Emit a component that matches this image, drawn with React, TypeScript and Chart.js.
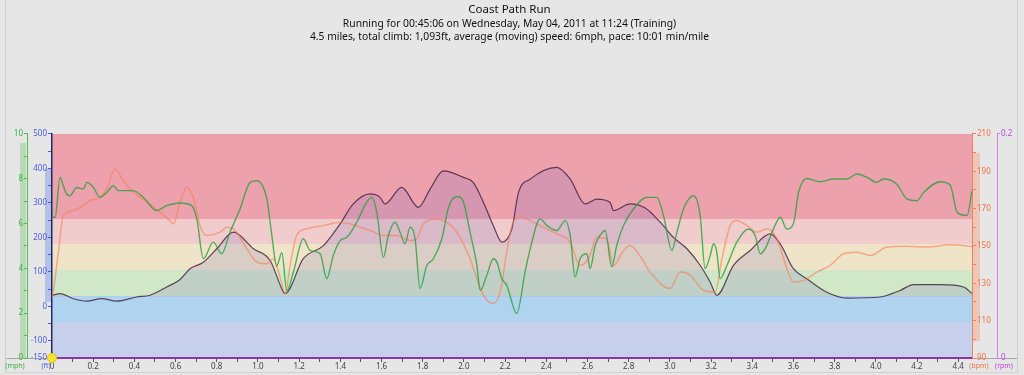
import React, { useEffect, useRef } from 'react';
import { Chart, registerables } from 'chart.js';

Chart.register(...registerables);

const TITLE = 'Coast Path Run';
const SUBTITLE = [
  'Running for 00:45:06 on Wednesday, May 04, 2011 at 11:24 (Training)',
  '4.5 miles, total climb: 1,093ft, average (moving) speed: 6mph, pace: 10:01 min/mile',
];

// distance in miles
const DIST_MAX = 4.467;

// altitude (ft)
const altMiles = [0, 0.039, 0.103, 0.169, 0.241, 0.314, 0.411, 0.476, 0.557, 0.622, 0.67, 0.735, 0.8, 0.881, 0.978, 1.059, 1.123, 1.132, 1.22, 1.318, 1.399, 1.463, 1.544, 1.593, 1.617, 1.698, 1.779, 1.836, 1.9, 1.998, 2.046, 2.095, 2.143, 2.184, 2.233, 2.265, 2.322, 2.451, 2.516, 2.589, 2.645, 2.71, 2.726, 2.807, 2.88, 2.953, 3.017, 3.083, 3.147, 3.196, 3.228, 3.309, 3.39, 3.487, 3.536, 3.6, 3.665, 3.762, 3.86, 4.021, 4.118, 4.183, 4.313, 4.426, 4.467];
const altFeet = [32, 37, 22, 15, 22, 15, 27, 32, 56, 78, 109, 128, 167, 215, 167, 133, 42, 37, 138, 176, 239, 297, 326, 316, 297, 345, 287, 340, 393, 374, 359, 301, 234, 186, 225, 330, 369, 403, 369, 297, 311, 301, 278, 297, 285, 244, 200, 167, 119, 70, 32, 119, 162, 210, 181, 109, 80, 41, 24, 27, 46, 63, 63, 56, 37];

// speed (mph)
const speedMiles = [0, 0.015, 0.039, 0.055, 0.071, 0.087, 0.12, 0.152, 0.169, 0.201, 0.233, 0.266, 0.298, 0.322, 0.363, 0.395, 0.443, 0.508, 0.557, 0.622, 0.678, 0.703, 0.735, 0.783, 0.824, 0.864, 0.913, 0.962, 0.994, 1.043, 1.067, 1.091, 1.116, 1.14, 1.172, 1.22, 1.253, 1.302, 1.334, 1.366, 1.399, 1.431, 1.48, 1.528, 1.553, 1.577, 1.609, 1.633, 1.666, 1.69, 1.714, 1.739, 1.763, 1.787, 1.82, 1.852, 1.893, 1.925, 1.966, 1.998, 2.03, 2.063, 2.079, 2.111, 2.143, 2.16, 2.184, 2.208, 2.257, 2.297, 2.322, 2.37, 2.403, 2.451, 2.492, 2.516, 2.54, 2.564, 2.597, 2.613, 2.637, 2.661, 2.686, 2.718, 2.742, 2.775, 2.823, 2.888, 2.937, 2.969, 3.01, 3.034, 3.066, 3.115, 3.147, 3.171, 3.196, 3.212, 3.228, 3.244, 3.277, 3.325, 3.382, 3.414, 3.439, 3.463, 3.503, 3.536, 3.568, 3.6, 3.625, 3.665, 3.73, 3.795, 3.86, 3.908, 3.957, 4.005, 4.037, 4.102, 4.151, 4.2, 4.232, 4.313, 4.361, 4.395, 4.443, 4.467];
const speedMph = [6.28, 6.28, 8.06, 7.69, 7.32, 7.24, 7.61, 7.54, 7.84, 7.61, 7.17, 7.39, 7.69, 7.47, 7.47, 7.47, 7.17, 6.58, 6.8, 6.92, 6.8, 6.21, 4.43, 5.17, 4.65, 5.61, 6.65, 7.84, 7.91, 7.1, 5.5, 4.1, 4.7, 3.0, 3.84, 5.32, 4.8, 4.65, 3.54, 4.58, 5.24, 5.39, 6.06, 6.95, 7.17, 6.5, 4.5, 5.47, 6.06, 5.61, 5.1, 5.84, 5.32, 3.1, 4.13, 4.43, 5.32, 6.72, 7.21, 6.95, 5.61, 4.13, 3.02, 3.69, 4.43, 4.28, 3.54, 3.24, 1.99, 3.84, 4.88, 6.21, 5.91, 5.69, 6.13, 5.47, 3.61, 4.43, 4.65, 3.99, 5.02, 5.47, 5.69, 4.06, 5.02, 5.91, 6.65, 7.17, 7.17, 6.36, 4.8, 5.61, 6.65, 7.24, 6.36, 3.99, 4.58, 5.1, 4.72, 3.54, 4.13, 5.17, 5.76, 5.47, 4.65, 4.88, 5.76, 6.28, 5.76, 5.99, 7.39, 8.01, 7.87, 7.99, 7.99, 8.21, 8.06, 7.84, 7.99, 7.76, 7.1, 7.02, 7.39, 7.87, 7.72, 6.5, 6.36, 7.47];

// heart rate (bpm)
const hrMiles = [0, 0.006, 0.031, 0.055, 0.103, 0.152, 0.185, 0.233, 0.266, 0.306, 0.346, 0.379, 0.427, 0.476, 0.525, 0.573, 0.589, 0.622, 0.654, 0.686, 0.719, 0.751, 0.816, 0.848, 0.881, 0.946, 0.994, 1.043, 1.075, 1.107, 1.132, 1.156, 1.188, 1.237, 1.318, 1.399, 1.447, 1.544, 1.609, 1.674, 1.739, 1.771, 1.803, 1.868, 1.917, 1.966, 2.03, 2.063, 2.095, 2.143, 2.176, 2.208, 2.233, 2.273, 2.322, 2.386, 2.451, 2.516, 2.564, 2.605, 2.645, 2.694, 2.726, 2.775, 2.807, 2.856, 2.905, 3.001, 3.05, 3.099, 3.163, 3.22, 3.253, 3.293, 3.325, 3.374, 3.423, 3.471, 3.52, 3.568, 3.6, 3.649, 3.714, 3.778, 3.843, 3.908, 3.973, 4.054, 4.151, 4.248, 4.361, 4.467];
const hrBpm = [122, 125.4, 146.7, 166.3, 168.9, 171.6, 174.3, 176, 180.5, 191.2, 185, 180.5, 176, 172.5, 168, 163.6, 161.8, 173.4, 181.4, 176, 160.9, 155.6, 157.4, 160, 159.2, 148.5, 141.4, 140.5, 143.2, 133.4, 124.5, 139.6, 155.6, 159.2, 160.9, 162.7, 161.8, 158.3, 155.6, 155.6, 152.9, 153.8, 161.8, 164.5, 162.7, 157.4, 143.2, 132.5, 123.6, 119.2, 125.4, 146.7, 160.9, 165.4, 163.6, 160, 156.5, 152, 139.6, 143.2, 154.7, 153.8, 139.6, 147.6, 150.3, 144.5, 136, 127.2, 136, 134.3, 126.3, 125.4, 143.2, 160.9, 163.6, 160.9, 157.4, 159.2, 153.8, 137.8, 130.7, 131.6, 136, 139.6, 145.8, 146.7, 144.9, 149.4, 149.9, 149.4, 150.6, 149.7];

// heart-rate zones (bpm bounds) and their colours
const zoneBounds = [90, 109.5, 123, 137, 151, 164.5, 210];
const zoneColors = ['#c6d0ec', '#b0d4f0', '#d0e8c8', '#f0e4c8', '#f0cdcc', '#eca1ac'];

// range bars beside the axes
const speedRange = [0, 9.6];
const altRange = [13, 400];
const hrRange = [99, 200];

// altitude shading base (ft)
const ALT_FILL_BASE = 28;

const FONT = "'Noto Sans', 'DejaVu Sans', sans-serif";

const toPts = (xs: number[], ys: number[]) => xs.map((x, i) => ({ x, y: ys[i] }));

export default function App() {
  const ref = useRef<HTMLCanvasElement>(null);

  useEffect(() => {
    document.body.style.margin = '0';
    const canvas = ref.current!;

    const decor = {
      id: 'decor',
      beforeDraw(chart: any) {
        const { ctx, chartArea: ca, scales } = chart;
        ctx.save();
        ctx.fillStyle = '#e6e6e6';
        ctx.fillRect(0, 0, chart.width, chart.height);
        ctx.strokeStyle = '#d0d0d0';
        ctx.lineWidth = 1;
        ctx.strokeRect(5.5, -2, 1012, 374.5);

        const yHR = scales.yHR;
        for (let i = 0; i < zoneColors.length; i++) {
          const top = Math.round(yHR.getPixelForValue(zoneBounds[i + 1]));
          const bot = Math.round(yHR.getPixelForValue(zoneBounds[i]));
          ctx.fillStyle = zoneColors[i];
          ctx.fillRect(ca.left, top, ca.right - ca.left, bot - top);
        }

        const sp = scales.ySpeed;
        const sx = sp.right;
        ctx.fillStyle = 'rgba(90,190,90,0.32)';
        const s1 = sp.getPixelForValue(speedRange[1]);
        const s0 = sp.getPixelForValue(speedRange[0]);
        ctx.fillRect(sx - 7, s1, 6, s0 - s1);

        const al = scales.yAlt;
        const ax = al.right;
        ctx.fillStyle = 'rgba(90,120,230,0.35)';
        const a1 = al.getPixelForValue(altRange[1]);
        const a0 = al.getPixelForValue(altRange[0]);
        ctx.fillRect(ax - 7, a1, 6, a0 - a1);

        const hx = yHR.left;
        ctx.fillStyle = 'rgba(245,150,110,0.4)';
        const h1 = yHR.getPixelForValue(hrRange[1]);
        const h0 = yHR.getPixelForValue(hrRange[0]);
        ctx.fillRect(hx + 1, h1, 7, h0 - h1);

        ctx.strokeStyle = '#a9a9a9';
        ctx.beginPath();
        ctx.moveTo(6, ca.bottom + 0.5);
        ctx.lineTo(1017, ca.bottom + 0.5);
        ctx.stroke();
        ctx.restore();
      },
      afterDraw(chart: any) {
        const { ctx, chartArea: ca, scales } = chart;
        ctx.save();
        ctx.font = `7px ${FONT}`;
        ctx.textAlign = 'center';
        ctx.textBaseline = 'middle';
        const y = ca.bottom + 8;
        ctx.fillStyle = '#3cb043';
        ctx.fillText('(mph)', scales.ySpeed.right - 12, y);
        ctx.fillStyle = '#4a5ae0';
        ctx.fillText('(ft)', scales.yAlt.right - 6, y);
        ctx.fillStyle = '#f07040';
        ctx.fillText('(bpm)', scales.yHR.left + 7, y);
        ctx.fillStyle = '#c040e0';
        ctx.fillText('(rpm)', scales.yRpm.left + 7, y);
        ctx.restore();
      },
    };

    const tickFont = { family: FONT, size: 8 };

    const chart = new Chart(canvas, {
      type: 'line',
      data: {
        datasets: [
          {
            label: 'start',
            data: [{ x: 0, y: -150 }],
            yAxisID: 'yAlt',
            pointRadius: 4.5,
            pointBackgroundColor: '#f4e52c',
            pointBorderColor: '#d8c510',
            pointBorderWidth: 1,
            showLine: false,
            clip: false as any,
          },
          {
            label: 'Speed',
            data: toPts(speedMiles, speedMph),
            yAxisID: 'ySpeed',
            borderColor: 'rgba(40,160,65,0.8)',
            borderWidth: 1.4,
            pointRadius: 0,
            cubicInterpolationMode: 'monotone',
            fill: false,
          },
          {
            label: 'Heart rate',
            data: toPts(hrMiles, hrBpm),
            yAxisID: 'yHR',
            borderColor: 'rgba(248,125,85,0.6)',
            borderWidth: 1.5,
            pointRadius: 0,
            cubicInterpolationMode: 'monotone',
            fill: false,
          },
          {
            label: 'Altitude',
            data: toPts(altMiles, altFeet),
            yAxisID: 'yAlt',
            borderColor: 'rgba(60,30,60,0.8)',
            borderWidth: 1.2,
            pointRadius: 0,
            cubicInterpolationMode: 'monotone',
            fill: {
              target: { value: ALT_FILL_BASE },
              above: 'rgba(120,100,190,0.18)',
              below: 'rgba(0,0,0,0)',
            },
          },
        ],
      },
      options: {
        animation: false,
        responsive: false,
        events: [],
        layout: { padding: { left: 0, right: 5, top: 0, bottom: 5 } },
        plugins: {
          legend: { display: false },
          tooltip: { enabled: false },
          title: {
            display: true,
            text: TITLE,
            color: '#111',
            font: { family: FONT, size: 11.5, weight: 'normal', lineHeight: 1.2 },
            padding: { top: 3, bottom: 0 },
          },
          subtitle: {
            display: true,
            text: SUBTITLE,
            color: '#111',
            font: { family: FONT, size: 10.3, lineHeight: 1.27 },
            padding: { top: 1, bottom: 90 },
          },
        },
        scales: {
          x: {
            type: 'linear',
            min: 0,
            max: DIST_MAX,
            border: { color: '#8b35a5', width: 2 },
            grid: { drawOnChartArea: false, tickLength: 4, tickColor: '#555' },
            ticks: {
              stepSize: 0.1,
              includeBounds: false,
              autoSkip: false,
              maxRotation: 0,
              padding: 0,
              color: '#444',
              font: tickFont,
              callback: (v: any) => {
                const t = Math.round(Number(v) * 10);
                if (t % 2 !== 0) return '';
                return t === 0 ? '0' : (t / 10).toFixed(1);
              },
            },
            afterFit: (s: any) => { s.height = 12; },
          },
          ySpeed: {
            type: 'linear',
            position: 'left',
            weight: 1,
            min: 0,
            max: 10,
            border: { color: '#4cbf4c', width: 1 },
            grid: { drawOnChartArea: false, tickLength: 3, tickColor: '#4cbf4c' },
            ticks: {
              stepSize: 1,
              padding: 1,
              color: '#3cb043',
              font: tickFont,
              callback: (v: any) => (Number(v) % 2 === 0 ? String(v) : ''),
            },
            afterFit: (s: any) => { s.width = 27; },
          },
          yAlt: {
            type: 'linear',
            position: 'left',
            weight: 0,
            min: -150,
            max: 500,
            border: { color: '#1e2a66', width: 1.5 },
            grid: { drawOnChartArea: false, tickLength: 4, tickColor: '#4a5ae0' },
            ticks: {
              stepSize: 50,
              padding: 1,
              color: '#4a5ae0',
              font: tickFont,
              callback: (v: any) => {
                const n = Number(v);
                return n % 100 === 0 || n === -150 ? String(n) : '';
              },
            },
            afterFit: (s: any) => { s.width = 25; },
          },
          yHR: {
            type: 'linear',
            position: 'right',
            weight: 0,
            min: 90,
            max: 210,
            border: { color: '#f08060', width: 1 },
            grid: { drawOnChartArea: false, tickLength: 4, tickColor: '#f08060' },
            ticks: {
              stepSize: 10,
              padding: 1,
              color: '#f07040',
              font: tickFont,
              callback: (v: any) => ((Number(v) - 90) % 20 === 0 ? String(v) : ''),
            },
            afterFit: (s: any) => { s.width = 25; },
          },
          yRpm: {
            type: 'linear',
            position: 'right',
            weight: 1,
            min: 0,
            max: 0.2,
            border: { color: '#d080e0', width: 1 },
            grid: { drawOnChartArea: false, tickLength: 3, tickColor: '#d080e0' },
            afterBuildTicks: (s: any) => { s.ticks = [{ value: 0 }, { value: 0.2 }]; },
            ticks: {
              padding: 1,
              color: '#c040e0',
              font: tickFont,
              callback: (v: any) => (Number(v) === 0 ? '0' : '0.2'),
            },
            afterFit: (s: any) => { s.width = 22; },
          },
        },
      } as any,
      plugins: [decor],
    });

    return () => chart.destroy();
  }, []);

  return <canvas ref={ref} width={1024} height={375} style={{ display: 'block' }} />;
}
